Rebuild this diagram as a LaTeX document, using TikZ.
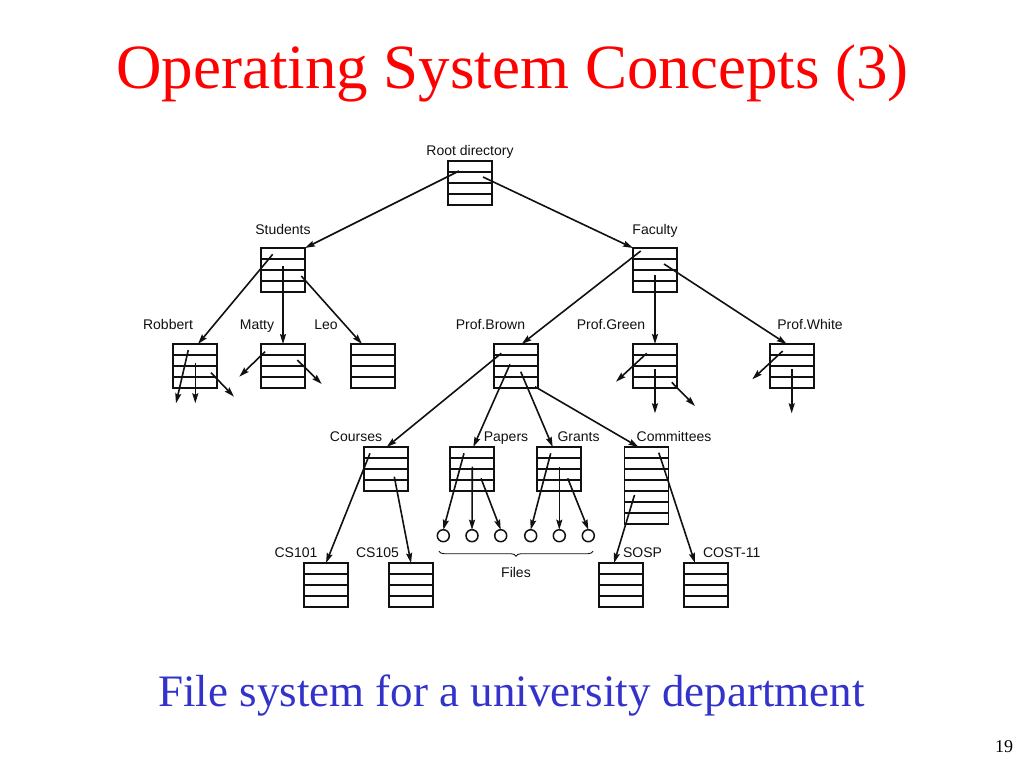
\documentclass[tikz,border=0pt]{standalone}
\usepackage{fontspec}
\setmainfont{Liberation Serif}
\newfontfamily\labelfont{Liberation Sans}
\usetikzlibrary{calc,arrows.meta,decorations.pathreplacing}
\definecolor{titlered}{HTML}{FF0000}
\definecolor{capblue}{HTML}{3333CC}
\definecolor{ink}{HTML}{111111}
\newcommand{\dirrows}[2]{%
  \foreach \k in {1,...,#2}{%
    \draw[rowline] ($(#1.north west)+(0,{11*\k})$) -- ($(#1.north east)+(0,{11*\k})$);}%
}
\begin{document}
\begin{tikzpicture}[x=1pt,y=-1pt,
  dirbox/.style={draw=ink,line width=1.7pt,minimum width=44pt,minimum height=44pt,inner sep=0pt,outer sep=0pt},
  tallbox/.style={dirbox,minimum height=77pt},
  rowline/.style={draw=ink,line width=1.1pt},
  filecirc/.style={draw=ink,circle,line width=1.5pt,minimum size=12pt,inner sep=0pt,outer sep=0pt},
  lbl/.style={font=\labelfont\fontsize{14}{16}\selectfont,text=ink,anchor=base,inner sep=0pt},
  arr/.style={draw=ink,line width=1.6pt,-{Stealth[length=10pt,width=6pt,inset=1.5pt]}},
  titletext/.style={font=\fontsize{63}{70}\selectfont,text=titlered,anchor=base,inner sep=0pt},
  captext/.style={font=\fontsize{45}{50}\selectfont,text=capblue,anchor=base,inner sep=0pt},
  pagetext/.style={font=\fontsize{18}{20}\selectfont,text=black,anchor=base,inner sep=0pt}
]
\fill[white] (0,0) rectangle (1024,768);
\useasboundingbox (0,0) rectangle (1024,768);

% title and caption
\node[titletext] (title) at (512.5,88.3) {Operating System Concepts (3)};
\node[captext] (caption) at (511.5,706.7) {File system for a university department};
\node[pagetext] (page) at (1004,752.7) {19};

% directory boxes
\node[dirbox] (root) at (470,183) {};
\node[dirbox] (students) at (283,270) {};
\node[dirbox] (faculty) at (655,270) {};
\node[dirbox] (robbert) at (195,366) {};
\node[dirbox] (matty) at (283,366) {};
\node[dirbox] (leo) at (373,366) {};
\node[dirbox] (brown) at (516,366) {};
\node[dirbox] (green) at (655,366) {};
\node[dirbox] (white) at (792,366) {};
\node[dirbox] (courses) at (386,469) {};
\node[dirbox] (papers) at (472,469) {};
\node[dirbox] (grants) at (559,469) {};
\node[tallbox] (committees) at (646.5,485.5) {};
\node[dirbox] (cs101) at (326,585) {};
\node[dirbox] (cs105) at (411,585) {};
\node[dirbox] (sosp) at (621,585) {};
\node[dirbox] (cost) at (706,585) {};

\foreach \b in {root,students,faculty,robbert,matty,leo,brown,green,white,courses,papers,grants,cs101,cs105,sosp,cost}{\dirrows{\b}{3}}
\dirrows{committees}{6}

% files
\node[filecirc] (f1) at (443.3,535.7) {};
\node[filecirc] (f2) at (472,535.7) {};
\node[filecirc] (f3) at (500.7,535.7) {};
\node[filecirc] (f4) at (530.7,535.7) {};
\node[filecirc] (f5) at (559.3,535.7) {};
\node[filecirc] (f6) at (588.3,535.7) {};

% labels
\node[lbl] (lroot) at (470,155.5) {Root directory};
\node[lbl] (lstudents) at (283,234.5) {Students};
\node[lbl] (lfaculty) at (655,234.5) {Faculty};
\node[lbl] (lrobbert) at (168,329.5) {Robbert};
\node[lbl] (lmatty) at (257,329.5) {Matty};
\node[lbl] (lleo) at (326,329.5) {Leo};
\node[lbl] (lbrown) at (490.5,329.5) {Prof.Brown};
\node[lbl] (lgreen) at (611,329.5) {Prof.Green};
\node[lbl] (lwhite) at (810,329.5) {Prof.White};
\node[lbl] (lcourses) at (356,441.5) {Courses};
\node[lbl] (lpapers) at (506,441.5) {Papers};
\node[lbl] (lgrants) at (578.5,441.5) {Grants};
\node[lbl] (lcommittees) at (674,441.5) {Committees};
\node[lbl] (lcs101) at (296,557) {CS101};
\node[lbl] (lcs105) at (377.5,557) {CS105};
\node[lbl] (lsosp) at (642.5,557) {SOSP};
\node[lbl] (lcost) at (731.7,557) {COST-11};
\node[lbl] (lfiles) at (516,577.5) {Files};

% brace under files
\coordinate (bl) at ($(f1.south)+(-4.3,9.5)$);
\coordinate (br) at ($(f6.south)+(4.7,9.5)$);
\draw[ink,line width=0.9pt,decorate,decoration={brace,amplitude=5pt,mirror}] (bl) -- (br);

% connectors: root
\draw[arr] ($(root.north west)+(11,10)$) -- (students.north east);
\draw[arr] ($(root.north west)+(35,16)$) -- (faculty.north west);
% students
\draw[arr] ($(students.north west)+(11.7,6.3)$) -- ($(robbert.north)+(3,0)$);
\draw[arr] ($(students.north west)+(22,18)$) -- (matty.north);
\draw[arr] ($(students.north west)+(40.3,28)$) -- ($(leo.north)+(-11,0)$);
% robbert loose
\coordinate (r1) at (176,403.3);
\coordinate (r2) at (195.3,403.3);
\coordinate (r3) at (234,396.7);
\draw[arr] ($(robbert.north west)+(15.3,6)$) -- (r1);
\draw[arr] ($(robbert.north west)+(22.3,19.3)$) -- (r2);
\draw[arr] ($(robbert.north west)+(38,28.7)$) -- (r3);
% matty loose
\coordinate (m1) at (239.3,376.7);
\coordinate (m2) at (321.7,384);
\draw[arr] ($(matty.north west)+(4,7.7)$) -- (m1);
\draw[arr] ($(matty.north west)+(36.3,16)$) -- (m2);
% faculty
\draw[arr] ($(faculty.north west)+(7.7,3)$) -- ($(brown.north)+(5.7,0)$);
\draw[arr] ($(faculty.north west)+(22,27)$) -- (green.north);
\draw[arr] ($(faculty.north west)+(31,16)$) -- ($(white.north)+(-5.3,0)$);
% green loose
\coordinate (g1) at (616,381.7);
\coordinate (g2) at (655,413.3);
\coordinate (g3) at (695,406);
\draw[arr] ($(green.north west)+(13.7,9.3)$) -- (g1);
\draw[arr] ($(green.north west)+(22,25.3)$) -- (g2);
\draw[arr] ($(green.north west)+(38.7,38.3)$) -- (g3);
% white loose
\coordinate (w1) at (752.3,379.3);
\coordinate (w2) at (791.7,413.3);
\draw[arr] ($(white.north west)+(12.7,7)$) -- (w1);
\draw[arr] ($(white.north west)+(21.7,25.3)$) -- (w2);
% brown
\draw[arr] ($(brown.north west)+(7.3,9.3)$) -- ($(courses.north)+(0.7,0)$);
\draw[arr] ($(brown.north west)+(16,20.3)$) -- ($(papers.north)+(1.3,0)$);
\draw[arr] ($(brown.north west)+(26.7,27.7)$) -- ($(grants.north)+(-6.3,0)$);
\draw[arr] ($(brown.south east)+(-3,-1.3)$) -- ($(committees.north)+(-8,0)$);
% courses
\draw[arr] ($(courses.north west)+(6,6.3)$) -- (cs101.north);
\draw[arr] ($(courses.north west)+(30.3,29.7)$) -- (cs105.north);
% papers
\draw[arr] ($(papers.north west)+(14,6.3)$) -- (f1.north);
\draw[arr] ($(papers.north west)+(22.3,19.7)$) -- (f2.north);
\draw[arr] ($(papers.north west)+(31,31.3)$) -- (f3.north);
% grants
\draw[arr] ($(grants.north west)+(13.7,6.3)$) -- (f4.north);
\draw[arr] ($(grants.north west)+(22.3,19.7)$) -- (f5.north);
\draw[arr] ($(grants.north west)+(30.7,31.3)$) -- (f6.north);
% committees
\draw[arr] ($(committees.north west)+(10,48)$) -- ($(sosp.north)+(-7,0)$);
\draw[arr] ($(committees.north west)+(34.3,5.7)$) -- ($(cost.north)+(-11,0)$);
\end{tikzpicture}
\end{document}
